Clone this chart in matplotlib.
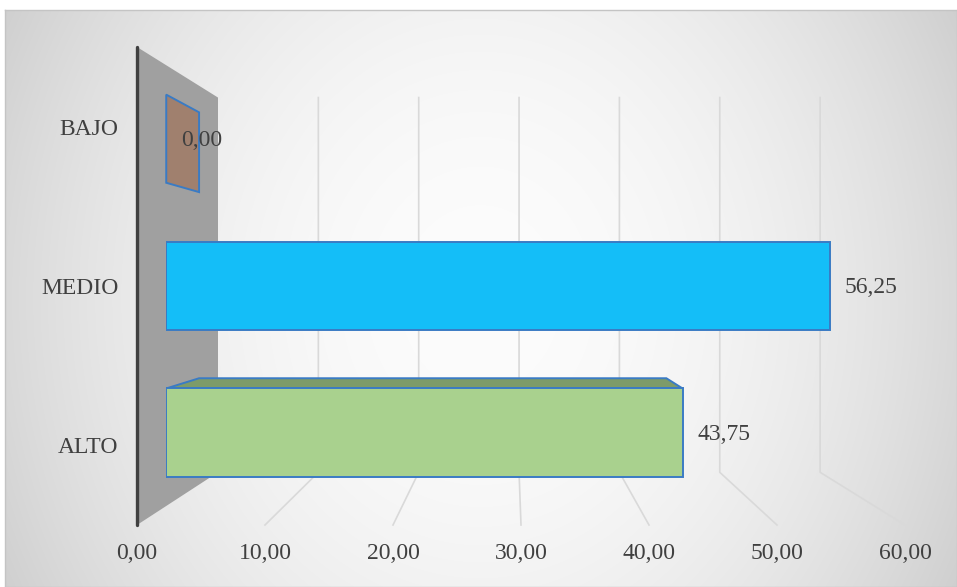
import numpy as np
import matplotlib.pyplot as plt
from matplotlib.patches import Polygon
from matplotlib.transforms import IdentityTransform

W, H = 957, 587

categorias = ['ALTO', 'MEDIO', 'BAJO']
valores = [43.75, 56.25, 0.00]
colores = ['#A9D18E', '#14BEF8', '#A0806E']
colores_techo = ['#7D9B69', '#0E93C4', '#7E6355']
ticks_x = [0, 10, 20, 30, 40, 50, 60]

plt.rcParams['font.family'] = ['Liberation Serif', 'DejaVu Serif']
TXT = '#404040'
FS = 17

# perspectiva estilo excel 3D
VP = np.array([512.0, H - 281.0])   # punto de fuga (pixeles de pantalla)
K = 0.2755
D_BAR0, D_BAR1 = 0.307, 0.72
BAR_H = 0.6


def escala(d):
    return 1.0 / (1.0 + K * d)


fig = plt.figure(figsize=(W / 100, H / 100), dpi=100)
fig.patch.set_facecolor('white')

# fondo con degradado radial
bg = fig.add_axes([5 / W, 0, (W - 5) / W, (H - 10) / H])
yy, xx = np.mgrid[0:577, 0:952]
cx, cy = 475, 288
val = 252 - 1.55e-4 * (xx - cx) ** 2 - 1.15e-4 * (yy - cy) ** 2
val = np.clip(val, 190, 255) / 255.0
bg.imshow(np.dstack([val, val, val]), aspect='auto', extent=[0, 1, 0, 1])
bg.set_xticks([])
bg.set_yticks([])
for sp in bg.spines.values():
    sp.set_color('#C4C4C4')
    sp.set_linewidth(1.0)

# plano frontal: etiquetas de ejes
ax = fig.add_axes([137 / W, 62 / H, 768 / W, 478 / H])
ax.set_xlim(0, 60)
ax.set_ylim(-0.5, 2.5)
ax.patch.set_visible(False)
for sp in ax.spines.values():
    sp.set_visible(False)
ax.set_xticks(ticks_x, [f'{t:.2f}'.replace('.', ',') for t in ticks_x])
ax.set_yticks(range(len(categorias)), categorias)
ax.tick_params(axis='both', length=0, labelsize=FS, labelcolor=TXT)
ax.tick_params(axis='x', pad=13)
ax.tick_params(axis='y', pad=13.5)

# plano de las caras frontales de las barras
fig.canvas.draw()
bb = ax.get_window_extent()
s0 = escala(D_BAR0)
x0 = VP[0] + (bb.x0 - VP[0]) * s0
x1 = VP[0] + (bb.x1 - VP[0]) * s0
y0 = VP[1] + (bb.y0 - VP[1]) * s0
y1 = VP[1] + (bb.y1 - VP[1]) * s0
axb = fig.add_axes([x0 / W, y0 / H, (x1 - x0) / W, (y1 - y0) / H])
axb.set_xlim(0, 60)
axb.set_ylim(-0.5, 2.5)
axb.axis('off')


def proj(v, c, d):
    p = ax.transData.transform((v, c))
    return VP + (p - VP) * escala(d)


def poly(pts, **kw):
    axb.add_patch(Polygon(pts, closed=True, transform=IdentityTransform(),
                          clip_on=False, **kw))


# pared lateral
poly([proj(0, 2.5, 0), proj(0, 2.5, 1), proj(0, -0.5, 1), proj(0, -0.5, 0)],
     facecolor='#A0A0A0', edgecolor='none', zorder=0.5)

# lineas de division (pared del fondo + suelo)
for t in ticks_x[1:]:
    pts = np.array([proj(t, 2.5, 1), proj(t, -0.5, 1), proj(t, -0.5, 0)])
    axb.plot(pts[:, 0], pts[:, 1], color='#D9D9D9', lw=1.2,
             transform=IdentityTransform(), clip_on=False, zorder=0.6)

# eje vertical
pts = np.array([proj(0, -0.5, 0), proj(0, 2.5, 0)])
axb.plot(pts[:, 0], pts[:, 1], color='#404040', lw=2.4, solid_capstyle='round',
         transform=IdentityTransform(), clip_on=False, zorder=0.7)

EDGE = '#3A7BC4'
for i, (v, c, ct) in enumerate(zip(valores, colores, colores_techo)):
    arriba, abajo = i + BAR_H / 2, i - BAR_H / 2
    # cara superior
    if proj(0, arriba, D_BAR0)[1] < VP[1]:
        poly([proj(0, arriba, D_BAR0), proj(0, arriba, D_BAR1),
              proj(v, arriba, D_BAR1), proj(v, arriba, D_BAR0)],
             facecolor=ct, edgecolor=EDGE, lw=1.4, zorder=1.5)
    # cara final
    if proj(v, i, D_BAR0)[0] < VP[0]:
        poly([proj(v, arriba, D_BAR0), proj(v, arriba, D_BAR1),
              proj(v, abajo, D_BAR1), proj(v, abajo, D_BAR0)],
             facecolor=c, edgecolor=EDGE, lw=1.4, zorder=1.5)

axb.barh(range(len(categorias)), valores, height=BAR_H, color=colores,
         edgecolor=EDGE, linewidth=1.4, zorder=2)

for i, v in enumerate(valores):
    axb.annotate(f'{v:.2f}'.replace('.', ','), xy=(v, i), xytext=(10.5, -1.5),
                 textcoords='offset points', ha='left', va='center',
                 fontsize=FS, color=TXT, zorder=3, annotation_clip=False)

fig.savefig('out.png', dpi=100)
